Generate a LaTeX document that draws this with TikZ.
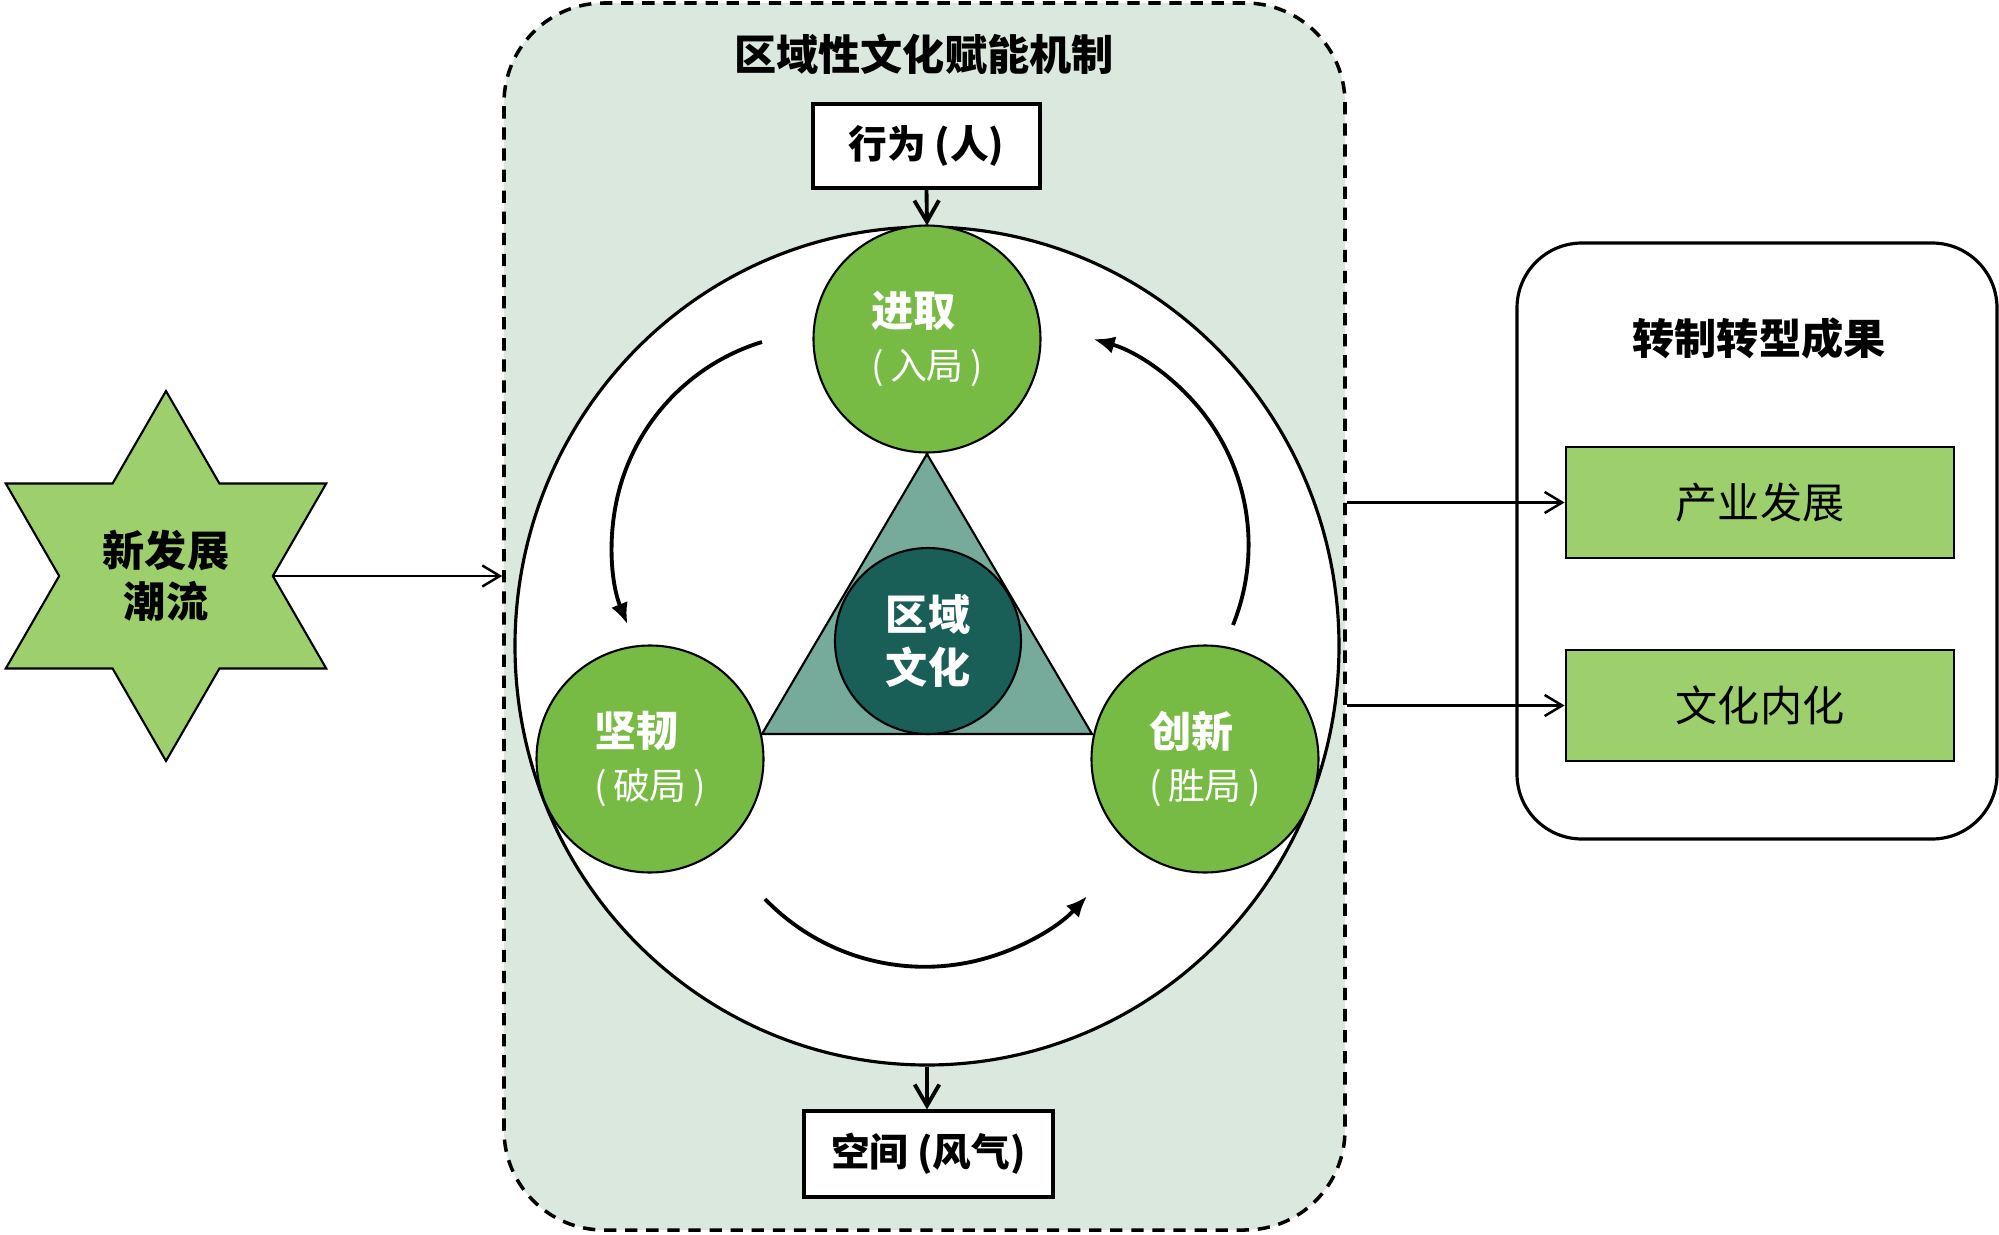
\documentclass[tikz,border=0pt]{standalone}
\usepackage{fontspec}
\setmainfont{Noto Sans CJK SC}
\usetikzlibrary{arrows.meta, shapes.geometric}
\definecolor{mechbg}{RGB}{218,232,222}
\definecolor{leaf}{RGB}{120,187,68}
\definecolor{lightleaf}{RGB}{157,207,108}
\definecolor{tealgrey}{RGB}{118,170,155}
\definecolor{deepteal}{RGB}{25,95,88}

\begin{document}
\begin{tikzpicture}[>=Latex,
  big/.style={font=\fontsize{12}{14.5}\selectfont\bfseries},
  factor/.style={circle, draw=black, line width=0.6pt, fill=leaf, minimum size=2.27cm,
    inner sep=0pt, text=white, align=left, font=\fontsize{12}{15}\selectfont},
  tagbox/.style={draw=black, line width=0.9pt, fill=white, minimum width=2.27cm,
    minimum height=0.84cm, font=\fontsize{11}{13}\selectfont\bfseries},
  result/.style={draw=black, line width=0.8pt, fill=lightleaf, minimum width=3.88cm,
    minimum height=1.11cm, font=\fontsize{12}{14}\selectfont},
  feed/.style={-{Straight Barb[length=5pt,width=6pt]}, line width=0.7pt},
  drop/.style={-{Straight Barb[length=6pt,width=7pt]}, line width=1.1pt},
  cyc/.style={-{Latex[length=6pt,width=5pt]}, line width=1.1pt}
]
\useasboundingbox (0,0) rectangle (19.99,12.34);

% ---- mechanism panel ----
\node[draw=black, dash pattern=on 3.5pt off 2.5pt, line width=1pt, fill=mechbg,
  rounded corners=1cm, minimum width=8.41cm, minimum height=12.27cm] (mech) at (9.245,6.175) {};
\node[big] (mechtitle) at (9.24,11.80) {区域性文化赋能机制};

\node[ellipse, draw=black, line width=0.9pt, fill=white, inner sep=0pt,
  minimum width=8.24cm, minimum height=8.38cm] (ring) at (9.27,5.88) {};

% cycle arrows
\draw[cyc] (7.62,8.92) arc[start angle=107, end angle=202, radius=2.12];
\draw[cyc] (12.33,6.09) arc[start angle=-22, end angle=74, radius=2.14];
\draw[cyc] (7.65,3.35) arc[start angle=224, end angle=317, radius=2.22];

% triangle + core
\fill[tealgrey, draw=black, line width=0.6pt] (7.62,5.00) -- (9.27,7.80) -- (10.92,5.00) -- cycle;
\node[circle, draw=black, line width=0.6pt, fill=deepteal, minimum size=1.86cm, inner sep=0pt,
  text=white, align=center, font=\fontsize{12}{15}\selectfont\bfseries] (core) at (9.28,5.93) {区域\\文化};

% three factors
\node[factor] (enter) at (9.27,8.95) {{\bfseries 进取}\\{\fontsize{10.5}{12}\selectfont (\,入局\,)}};
\node[factor] (tough) at (6.50,4.75) {{\bfseries 坚韧}\\{\fontsize{10.5}{12}\selectfont (\,破局\,)}};
\node[factor] (novel) at (12.05,4.75) {{\bfseries 创新}\\{\fontsize{10.5}{12}\selectfont (\,胜局\,)}};

% behaviour / space
\node[tagbox] (act) at (9.265,10.88) {行为 (人)};
\node[tagbox, minimum width=2.49cm, minimum height=0.86cm] (space) at (9.285,0.80) {空间 (风气)};
\draw[drop] (act.south) -- (ring.north);
\draw[drop] (ring.south) -- (ring.south |- space.north);

% ---- trend star ----
\node[star, star points=6, star point ratio=1.732, minimum size=3.7cm, inner sep=0pt,
  draw=black, line width=0.6pt, fill=lightleaf, align=center,
  font=\fontsize{12}{14.5}\selectfont\bfseries] (trend) at (1.66,6.58) {新发展\\潮流};
\draw[feed] (trend.east) -- (trend.east -| mech.west);

% ---- outcomes ----
\node[draw=black, line width=0.9pt, fill=white, rounded corners=0.65cm,
  minimum width=4.80cm, minimum height=5.96cm] (outcome) at (17.57,6.93) {};
\node[big] (outtitle) at (17.59,8.96) {转制转型成果};
\node[result] (industry) at (17.60,7.315) {产业发展};
\node[result] (inner) at (17.60,5.285) {文化内化};
\draw[feed] (mech.east |- industry.west) -- (industry.west);
\draw[feed] (mech.east |- inner.west) -- (inner.west);
\end{tikzpicture}
\end{document}
